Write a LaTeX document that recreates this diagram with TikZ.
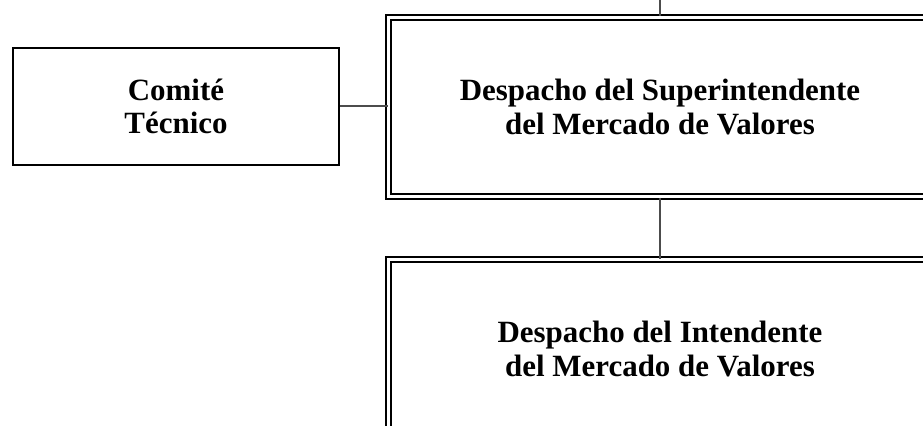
\documentclass[tikz,border=0pt]{standalone}
\usepackage{fontspec}
\setmainfont{Liberation Serif}
\tikzstyle{block} = [rectangle, draw, line width=0.05cm, align=center, inner sep=0pt, font=\bfseries\fontsize{22}{24}\selectfont]
\tikzstyle{office} = [block, double, double distance=0.075cm, minimum width=13.575cm, minimum height=4.475cm]
\tikzstyle{link} = [line width=0.05cm, black!70]

\begin{document}
\begin{tikzpicture}
        \useasboundingbox (0,0) rectangle (23.075,-10.625);
        \clip (0,0) rectangle (23.075,-10.625);
        \node[block, minimum width=8.15cm, minimum height=2.925cm] (comite) at (4.4,-2.66) {Comité\\Técnico};
        \node[office] (super) at (16.5,-2.675) {Despacho del Superintendente\\del Mercado de Valores};
        \node[office] (intend) at (16.5,-8.725) {Despacho del Intendente\\del Mercado de Valores};
        \coordinate (top) at (16.5,0);

        \draw[link] (top) -- (super.north);
        \draw[link] (comite.east) -- (comite.east -| super.west);
        \draw[link] (super.south) -- (intend.north);
    \end{tikzpicture}
\end{document}
